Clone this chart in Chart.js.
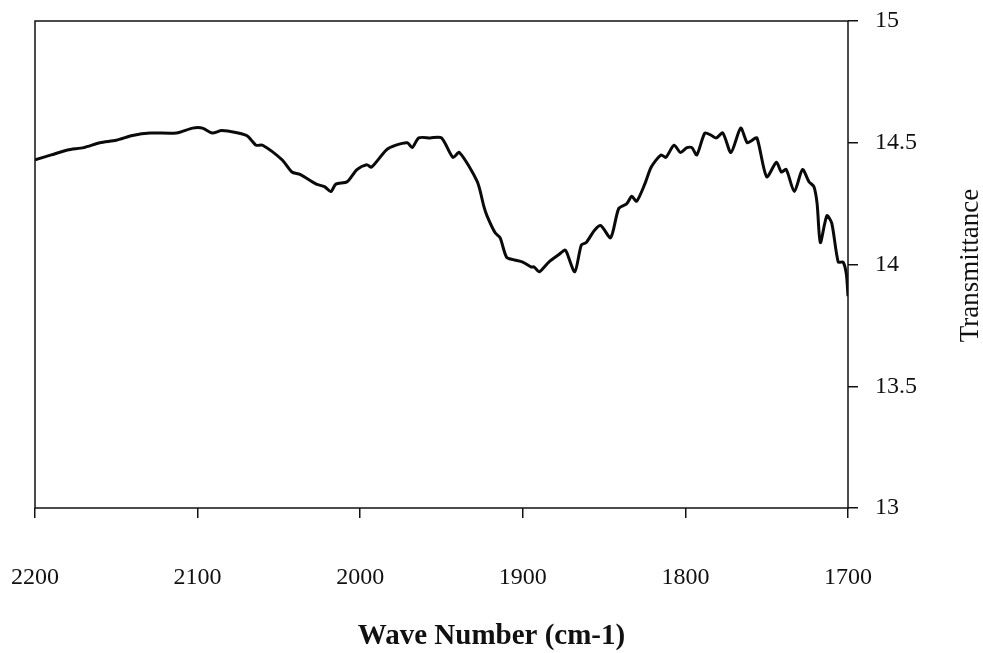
<!DOCTYPE html>
<html>
<head>
<meta charset="utf-8">
<script src="https://cdn.jsdelivr.net/npm/chart.js@4/dist/chart.umd.min.js"></script>
<style>
  html, body { margin: 0; padding: 0; background: #ffffff; }
  #wrap { width: 983px; height: 653px; position: relative; }
</style>
</head>
<body>
<div id="wrap"><canvas id="c" width="983" height="653"></canvas></div>
<script>
// ---- data ----
const waveNumbers = [
  2200, 2190, 2180, 2170, 2160, 2150, 2140, 2129, 2113, 2103, 2097, 2091, 2085, 2070, 2064, 2060,
  2048, 2042, 2037, 2027, 2022, 2018, 2015, 2008, 2002, 1996, 1993, 1984, 1978, 1971, 1968, 1964,
  1957, 1950, 1943, 1939, 1928, 1924, 1922, 1917, 1914, 1910, 1906, 1900, 1895, 1893, 1890, 1884,
  1878, 1874, 1873, 1868, 1864, 1861, 1856, 1852, 1846, 1841, 1836, 1833, 1830, 1825, 1821, 1815,
  1812, 1807, 1803, 1799, 1796, 1793, 1788, 1784, 1781, 1777, 1772, 1766, 1762, 1759, 1756, 1750,
  1744, 1741, 1738, 1733, 1728, 1724, 1721, 1719, 1717, 1713, 1710, 1706, 1703, 1701, 1700
];
const transmittance = [
  14.43, 14.45, 14.47, 14.48, 14.50, 14.51, 14.53, 14.54, 14.54, 14.56, 14.56, 14.54, 14.55, 14.53, 14.49, 14.49,
  14.43, 14.38, 14.37, 14.33, 14.32, 14.30, 14.33, 14.34, 14.39, 14.41, 14.40, 14.47, 14.49, 14.50, 14.48, 14.52,
  14.52, 14.52, 14.44, 14.46, 14.34, 14.24, 14.20, 14.13, 14.11, 14.03, 14.02, 14.01, 13.99, 13.99, 13.97, 14.01,
  14.04, 14.06, 14.05, 13.97, 14.08, 14.09, 14.14, 14.16, 14.11, 14.23, 14.25, 14.28, 14.26, 14.33, 14.40, 14.45,
  14.44, 14.49, 14.46, 14.48, 14.48, 14.45, 14.54, 14.53, 14.52, 14.54, 14.46, 14.56, 14.50, 14.51, 14.52, 14.36,
  14.42, 14.38, 14.39, 14.30, 14.39, 14.34, 14.32, 14.25, 14.09, 14.20, 14.17, 14.01, 14.01, 13.96, 13.87
];
const xTickValues = [2200, 2100, 2000, 1900, 1800, 1700];
const yTickValues = [13, 13.5, 14, 14.5, 15];
const xTitle = 'Wave Number (cm-1)';
const yTitle = 'Transmittance';

// ---- chart ----
const points = waveNumbers.map((w, i) => ({ x: w, y: transmittance[i] }));
const serif = '"Liberation Serif", "Times New Roman", serif';

const frame = {
  id: 'frame',
  afterDraw(chart) {
    const { ctx, chartArea: a, width } = chart;
    ctx.save();
    ctx.strokeStyle = '#111';
    ctx.lineWidth = 1.5;
    ctx.strokeRect(a.left, a.top, a.right - a.left, a.bottom - a.top);
    ctx.fillStyle = '#111';
    ctx.textAlign = 'center';
    ctx.textBaseline = 'middle';
    // bottom axis title, centred on the whole figure
    ctx.font = 'bold 29px ' + serif;
    ctx.fillText(xTitle, width / 2, 637);
    // right-hand axis title, reading bottom to top
    ctx.translate(971, (a.top + a.bottom) / 2 + 1);
    ctx.rotate(-Math.PI / 2);
    ctx.font = '27px ' + serif;
    ctx.fillText(yTitle, 0, 0);
    ctx.restore();
  }
};

new Chart(document.getElementById('c'), {
  type: 'line',
  data: {
    datasets: [{
      data: points,
      borderColor: '#0a0a0a',
      borderWidth: 3,
      pointRadius: 0,
      tension: 0.25,
      fill: false
    }]
  },
  options: {
    responsive: false,
    animation: false,
    events: [],
    layout: { padding: { left: 35, top: 21, right: 0, bottom: 0 } },
    plugins: { legend: { display: false }, tooltip: { enabled: false } },
    scales: {
      x: {
        type: 'linear',
        reverse: true,
        min: 1700,
        max: 2200,
        afterBuildTicks(scale) { scale.ticks = xTickValues.map(v => ({ value: v })); },
        afterFit(scale) { scale.height = 145; scale.paddingLeft = 0; scale.paddingRight = 0; },
        ticks: {
          color: '#111',
          padding: 45,
          maxRotation: 0,
          autoSkip: false,
          font: { family: serif, size: 24 },
          callback: v => String(v)
        },
        grid: { drawOnChartArea: false, drawTicks: true, tickLength: 10, color: '#111', lineWidth: 1.5 },
        border: { display: false },
        title: { display: false }
      },
      y: {
        type: 'linear',
        position: 'right',
        min: 13,
        max: 15,
        afterBuildTicks(scale) { scale.ticks = yTickValues.map(v => ({ value: v })); },
        afterFit(scale) { scale.width = 135; scale.paddingTop = 0; scale.paddingBottom = 0; },
        ticks: {
          color: '#111',
          padding: 17,
          font: { family: serif, size: 24 },
          callback: v => String(v)
        },
        grid: { drawOnChartArea: false, drawTicks: true, tickLength: 10, color: '#111', lineWidth: 1.5 },
        border: { display: false },
        title: { display: false }
      }
    }
  },
  plugins: [frame]
});
</script>
</body>
</html>
